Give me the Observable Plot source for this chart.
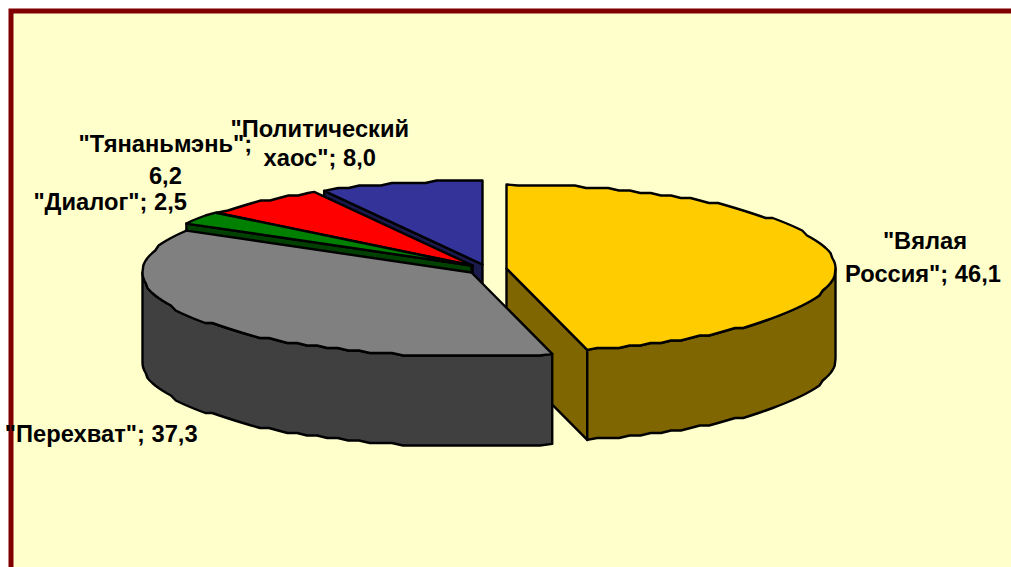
<!DOCTYPE html>
<html>
<head>
<meta charset="utf-8">
<style>html,body{margin:0;padding:0;background:#fff;overflow:hidden}svg{display:block}</style>
<script src="https://cdn.jsdelivr.net/npm/d3@7"></script>
<script src="https://cdn.jsdelivr.net/npm/@observablehq/plot@0.6"></script>
</head>
<body>
<div id="chart"></div>
<script>
// Data, clockwise from 12 o'clock
const values = [46.1, 37.3, 2.5, 6.2, 8.0];
const labelLines = [
  ['"Вялая', 'Россия"; 46,1'],
  ['"Перехват"; 37,3'],
  ['"Диалог"; 2,5'],
  ['"Тянаньмэнь";', '6,2'],
  ['"Политический', 'хаос"; 8,0']
];
// Styles and layout
const topColors = ["#FFCC00", "#808080", "#008000", "#FF0000", "#333399"];
const wallColors = ["#806600", "#404040", "#004000", "#800000", "#1A1A4D"];
const centerX = [506, 471, 471, 472, 482];
const centerY = [268, 272, 265, 265, 264];
const drawOrder = [4, 3, 2, 0, 1];
const radiusX = 329, radiusY = 84, depth = 90, step = 2, snap = 2.5;
// label line centres relative to the rim point at the slice's mid angle
const labelOffsets = [
  [[92, -17], [90, 16]],
  [[-108, 111]],
  [[-90, -16]],
  [[-96, -57], [-96, -25]],
  [[-81, -54], [-81, -25]]
];

const total = d3.sum(values);
const cumulative = d3.cumsum(values);
const snapped = v => Math.round(v / snap) * snap;
function rim(i, deg, drop = 0, rough = true) {
  const t = deg * Math.PI / 180;
  const x = centerX[i] + radiusX * Math.sin(t);
  const y = centerY[i] - radiusY * Math.cos(t) + drop;
  return rough ? [x, snapped(y - drop) + drop] : [x, y];
}
function arc(i, a, b, drop = 0) {
  const pts = [rim(i, a, drop, false)];
  for (let d = Math.ceil(a / step) * step + step; d < b - step / 2; d += step) pts.push(rim(i, d, drop));
  pts.push(rim(i, b, drop, false));
  return pts;
}
const rows = [];
let id = 0;
function polygon(pts, color) {
  id++;
  [...pts, pts[0]].forEach(([x, y]) => rows.push({x, y, id, color}));
}
for (const i of drawOrder) {
  const a = (i ? cumulative[i - 1] : 0) / total * 360;
  const b = cumulative[i] / total * 360;
  const apex = [centerX[i], centerY[i]];
  const drop = ([x, y]) => [x, y + depth];
  for (const [deg, visible] of [[a, Math.sin(a * Math.PI / 180) < -1e-6], [b, Math.sin(b * Math.PI / 180) > 1e-6]]) {
    if (visible) {
      const p = rim(i, deg, 0, false);
      polygon([apex, p, drop(p), drop(apex)], wallColors[i]);
    }
  }
  const w0 = Math.max(a, 90), w1 = Math.min(b, 270);
  if (w1 > w0) {
    polygon([...arc(i, w0, w1), ...arc(i, w0, w1, depth).reverse()], wallColors[i]);
  }
  polygon([apex, ...arc(i, a, b)], topColors[i]);
}
const labels = [];
labelLines.forEach((lines, i) => {
  const mid = ((i ? cumulative[i - 1] : 0) + cumulative[i]) / 2 / total * 360;
  const [x, y] = rim(i, mid, 0, false);
  lines.forEach((text, j) => labels.push({x: x + labelOffsets[i][j][0], y: y + labelOffsets[i][j][1], text}));
});

const plot = Plot.plot({
  width: 1011, height: 567, margin: 0,
  x: {axis: null, domain: [0, 1011], range: [0, 1011]},
  y: {axis: null, domain: [0, 567], range: [0, 567]},
  color: {type: "identity"},
  marks: [
    Plot.rect([{}], {x1: 11, y1: 11, x2: 1040, y2: 600, fill: "#FFFFCC", stroke: "#800000", strokeWidth: 5}),
    Plot.line(rows, {x: "x", y: "y", z: "id", fill: "color", stroke: "#000", strokeWidth: 2.4, curve: "linear"}),
    Plot.text(labels, {x: "x", y: "y", text: "text", fontFamily: "Liberation Sans", fontWeight: "bold", fontSize: 23.7, fill: "#000", textAnchor: "middle", lineAnchor: "middle"})
  ]
});
document.getElementById("chart").append(plot);
</script>
</body>
</html>
